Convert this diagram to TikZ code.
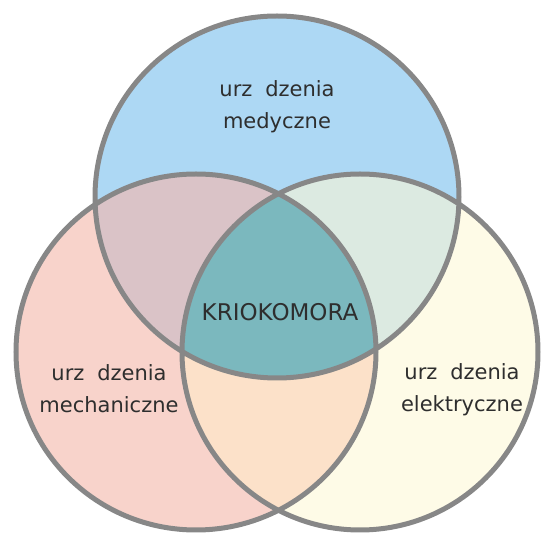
\documentclass[tikz,border=0pt]{standalone}
\usepackage{fontspec}
\setmainfont{DejaVu Sans}

\definecolor{fillmed}{HTML}{ADD8F4}
\definecolor{fillmech}{HTML}{F8D3CB}
\definecolor{fillelec}{HTML}{FEFBE7}
\definecolor{mixmedmech}{HTML}{DAC3C7}
\definecolor{mixmedelec}{HTML}{DCEAE1}
\definecolor{mixmechelec}{HTML}{FCE1C9}
\definecolor{corecol}{HTML}{7BB8BE}
\definecolor{ringgray}{HTML}{878787}
\definecolor{textdark}{HTML}{2E2E2E}

% the printed labels leave a gap where the missing letter stood
\newcommand{\agap}{\hspace{0.613em}}
\newcommand{\medset}{(277,197) ellipse [x radius=182, y radius=181]}
\newcommand{\mechset}{(196,352) ellipse [x radius=180, y radius=178]}
\newcommand{\elecset}{(360,352) ellipse [x radius=178, y radius=178]}

\begin{document}
\begin{tikzpicture}[x=1pt,y=-1pt,
		ring/.style = {draw=ringgray, line width=5pt},
		set text/.style = {font=\fontsize{21}{32}\selectfont, text=textdark, align=center}]
	\useasboundingbox (0,0) rectangle (542,534);
	
	\fill[fillmed] \medset;
	\fill[fillmech] \mechset;
	\fill[fillelec] \elecset;
	\begin{scope}
		\clip \medset;
		\fill[mixmedmech] \mechset;
		\fill[mixmedelec] \elecset;
	\end{scope}
	\begin{scope}
		\clip \mechset;
		\fill[mixmechelec] \elecset;
		\clip \medset;
		\fill[corecol] \elecset;
	\end{scope}
	\draw[ring] \medset \mechset \elecset;
	
	\node[set text] (med) at (277,107) {urz\agap dzenia\\medyczne};
	\node[set text] (mech) at (109,389) {urz\agap dzenia\\mechaniczne};
	\node[set text] (elec) at (462,390) {urz\agap dzenia\\elektryczne};
	\node[set text,font=\fontsize{23}{32}\selectfont,anchor=base] (core) at (280,321) {KRIOKOMORA};
\end{tikzpicture}
\end{document}
